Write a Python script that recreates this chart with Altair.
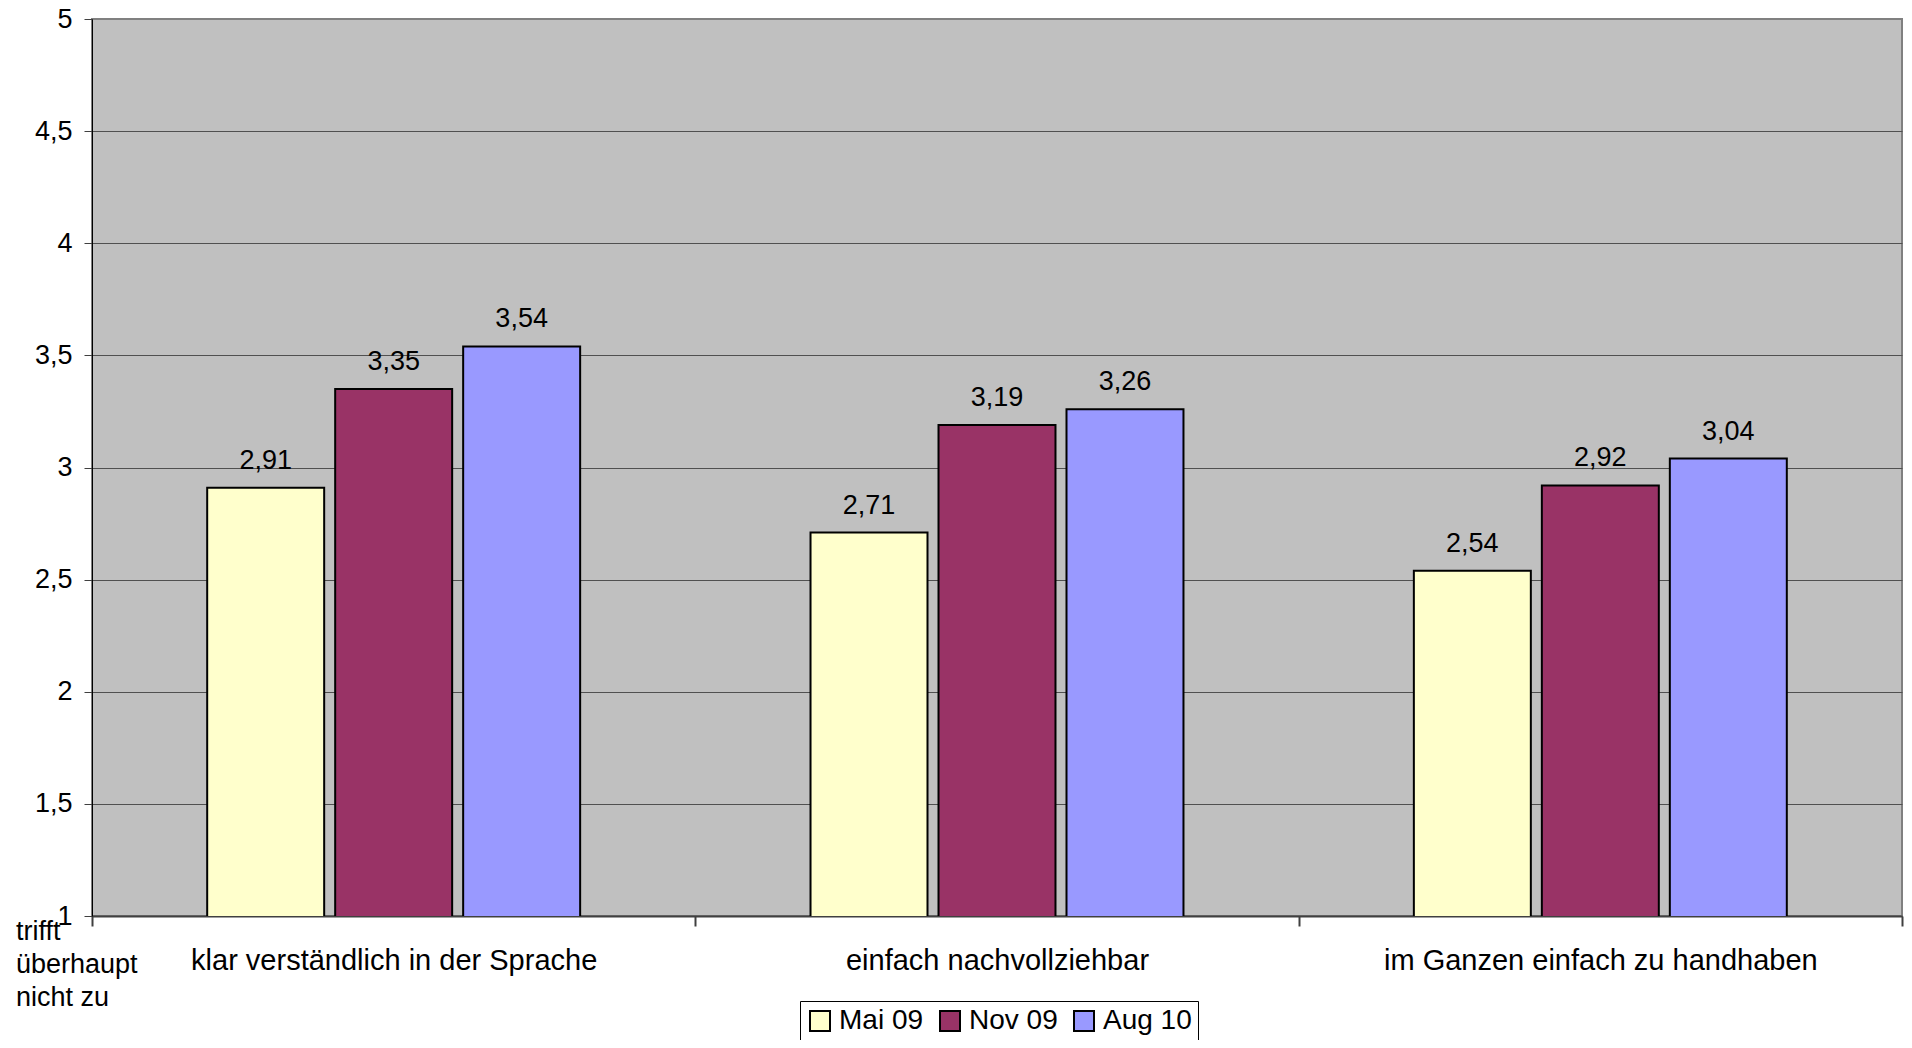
import altair as alt
import pandas as pd

categories = ["klar verständlich in der Sprache", "einfach nachvollziehbar", "im Ganzen einfach zu handhaben"]
series = ["Mai 09", "Nov 09", "Aug 10"]
mai09 = [2.91, 2.71, 2.54]
nov09 = [3.35, 3.19, 2.92]
aug10 = [3.54, 3.26, 3.04]
colors = ["#FFFFCC", "#993366", "#9999FF"]
y_ticks = [1, 1.5, 2, 2.5, 3, 3.5, 4, 4.5, 5]
note_lines = ["trifft", "überhaupt", "nicht zu"]

rows = []
for s, vals in zip(series, [mai09, nov09, aug10]):
    for c, v in zip(categories, vals):
        rows.append({"Kategorie": c, "Serie": s, "Wert": v,
                     "Label": f"{v:.2f}".replace(".", ",")})
df = pd.DataFrame(rows)

W, H = 1810, 897
TOP = 11
FONT = "Liberation Sans"
FS = 27

x_enc = alt.X("Kategorie:N", sort=categories, title=None,
              scale=alt.Scale(paddingInner=0, paddingOuter=0),
              axis=alt.Axis(labelAngle=0, labelFontSize=29, labelColor="black",
                            labelBaseline="alphabetic", labelPadding=43,
                            labelLimit=0,
                            tickBand="extent", tickSize=10, tickColor="#404040",
                            tickWidth=2, domainColor="#404040", domainWidth=2,
                            grid=False))
xoff = alt.XOffset("Serie:N", sort=series,
                   scale=alt.Scale(paddingInner=0.086, paddingOuter=0.9))
y_enc = alt.Y("Wert:Q", title=None,
              scale=alt.Scale(domain=[1, 5], nice=False, zero=False),
              axis=alt.Axis(values=y_ticks, labelFontSize=FS, labelColor="black",
                            labelExpr="replace(format(datum.value, '~g'), '.', ',')",
                            labelPadding=12, tickSize=8, tickColor="#404040",
                            domainColor="black", domainWidth=1,
                            grid=True,
                            gridColor={"condition": {"test": "datum.value == 5", "value": "#808080"},
                                       "value": "#505050"},
                            gridWidth=1))

base = alt.Chart(df)
bars = base.mark_bar(stroke="black", strokeWidth=2, clip=True).encode(
    x=x_enc, xOffset=xoff, y=y_enc,
    color=alt.Color("Serie:N", sort=series, title=None,
                    scale=alt.Scale(domain=series, range=colors),
                    legend=alt.Legend(orient="none", legendX=708, legendY=982,
                                      direction="horizontal", columns=3,
                                      symbolType="square", symbolSize=400,
                                      symbolStrokeColor="black", symbolStrokeWidth=2,
                                      symbolOpacity=1,
                                      labelFontSize=28, labelColor="black",
                                      labelOffset=5, columnPadding=12,
                                      padding=6, strokeColor="black",
                                      fillColor="white")),
)
labels = base.mark_text(dy=-19, baseline="alphabetic", fontSize=FS, color="black",
                        font=FONT).encode(
    x=alt.X("Kategorie:N", sort=categories), xOffset=alt.XOffset("Serie:N", sort=series),
    y=alt.Y("Wert:Q"), text="Label:N")

note = alt.Chart(pd.DataFrame({"t": ["\n".join(note_lines)]})).mark_text(
    align="left", baseline="alphabetic", fontSize=FS, lineHeight=33,
    lineBreak="\n", color="black", font=FONT).encode(
    x=alt.value(-76), y=alt.value(940 - 8 - TOP), text="t:N")

chart = alt.layer(bars, labels, note).properties(
    width=W, height=H,
    autosize=alt.AutoSizeParams(type="none"),
    padding={"left": 84, "top": TOP, "right": 2, "bottom": 124},
).configure(font=FONT).configure_view(
    fill="#C0C0C0", stroke="#808080", strokeWidth=2
)

chart.save("out.html", embed_options={"renderer": "svg", "actions": False})
